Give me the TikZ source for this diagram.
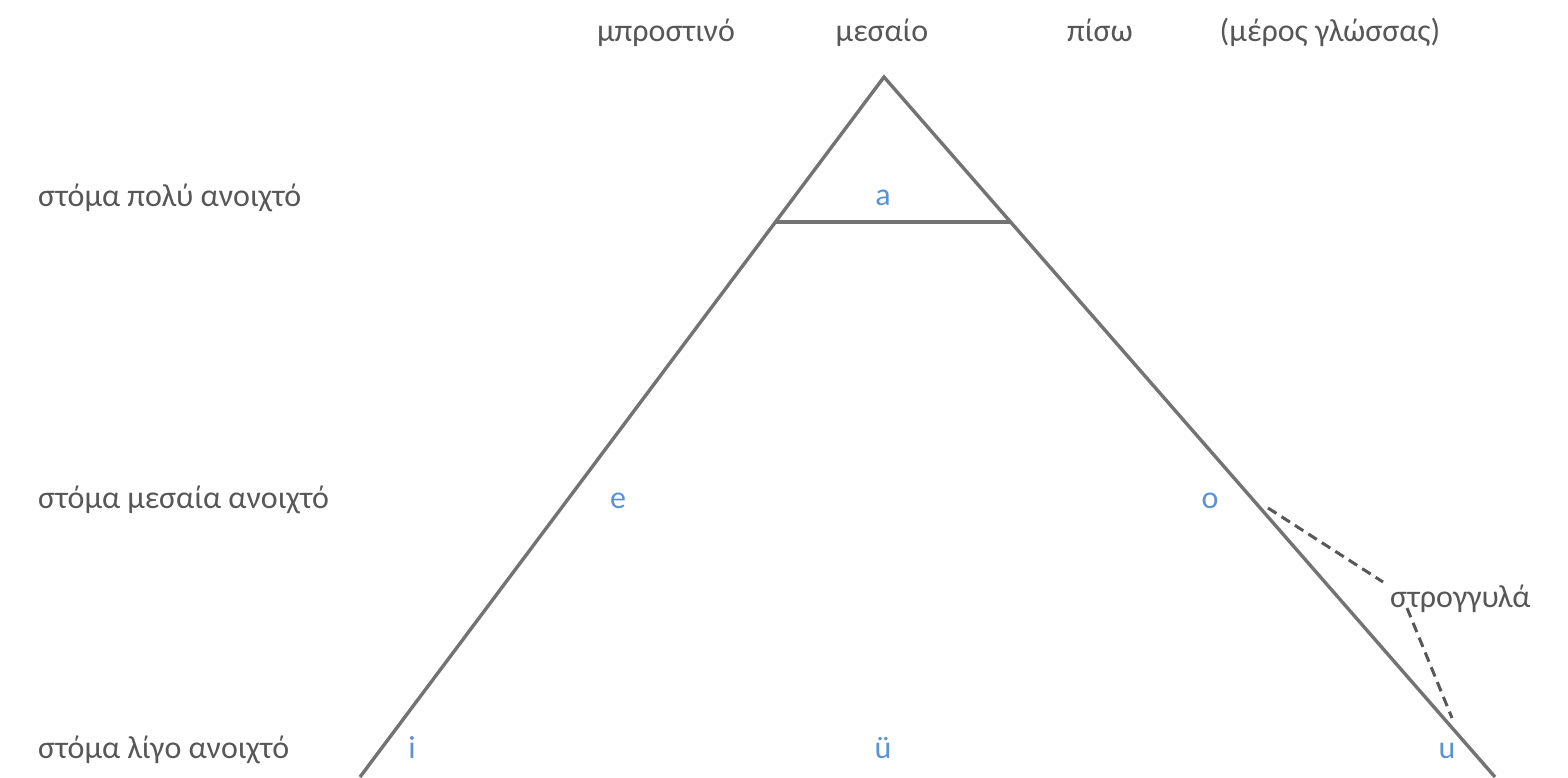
\documentclass[tikz,border=0pt]{standalone}
\usepackage{fontspec}
\setmainfont{Carlito}
\usetikzlibrary{positioning,calc}
\definecolor{vowelGray}{HTML}{575757}
\definecolor{vowelLine}{HTML}{737373}
\definecolor{vowelBlue}{HTML}{5B93D0}
\tikzset{
	vowelText/.style={
		inner sep=0pt,
		anchor=base,
		font=\fontsize{32}{38}\selectfont
	},
	vowelLabel/.style={vowelText, text=vowelGray},
	vowelRow/.style={vowelLabel, anchor=base west},
	vowelSound/.style={vowelText, text=vowelBlue},
	vowelEdge/.style={draw=vowelLine, line width=3.4pt},
	vowelDash/.style={draw=vowelGray, line width=3pt, dash pattern=on 10pt off 6pt}
}

\begin{document}
\begin{tikzpicture}[x=1pt, y=-1pt]

	\useasboundingbox (0,0) rectangle (1568,777);

	% Tongue position
	\node[vowelLabel] (front) at (666,41) {μπροστινό};
	\node[vowelLabel] (central) at (882,41) {μεσαίο};
	\node[vowelLabel] (back) at (1100,41) {πίσω};
	\node[vowelLabel] (part) at (1330,41) {(μέρος γλώσσας)};

	% Mouth opening
	\node[vowelRow] (open) at (38,206) {στόμα πολύ ανοιχτό};
	\node[vowelRow] (mid) at (38,508) {στόμα μεσαία ανοιχτό};
	\node[vowelRow] (close) at (38,758) {στόμα λίγο ανοιχτό};

	% Triangle
	\coordinate (apex) at (884,77);
	\coordinate (lbase) at (360,777);
	\coordinate (rbase) at (1495,777);
	\coordinate (lbar) at ($(apex)!0.2071!(lbase)$);
	\coordinate (rbar) at ($(apex)!0.2071!(rbase)$);

	\draw[vowelEdge] (lbase) -- (apex) -- (rbase);
	\draw[vowelEdge] (lbar) -- (rbar);

	% Vowels
	\node[vowelSound] (va) at (883,205) {a};
	\node[vowelSound] (ve) at (618,508) {e};
	\node[vowelSound] (vo) at (1210,508) {o};
	\node[vowelSound] (vi) at (412,758) {i};
	\node[vowelSound] (vue) at (883,758) {ü};
	\node[vowelSound] (vu) at (1447,758) {u};

	% Rounded
	\node[vowelLabel, anchor=base west] (round) at (1390,607) {στρογγυλά};
	\coordinate (rndO) at (1268,508);
	\coordinate (rndA) at (1383,582);
	\coordinate (rndB) at (1407,608);
	\coordinate (rndU) at (1452,718);

	\draw[vowelDash] (rndO) -- (rndA);
	\draw[vowelDash] (rndB) -- (rndU);

\end{tikzpicture}
\end{document}
